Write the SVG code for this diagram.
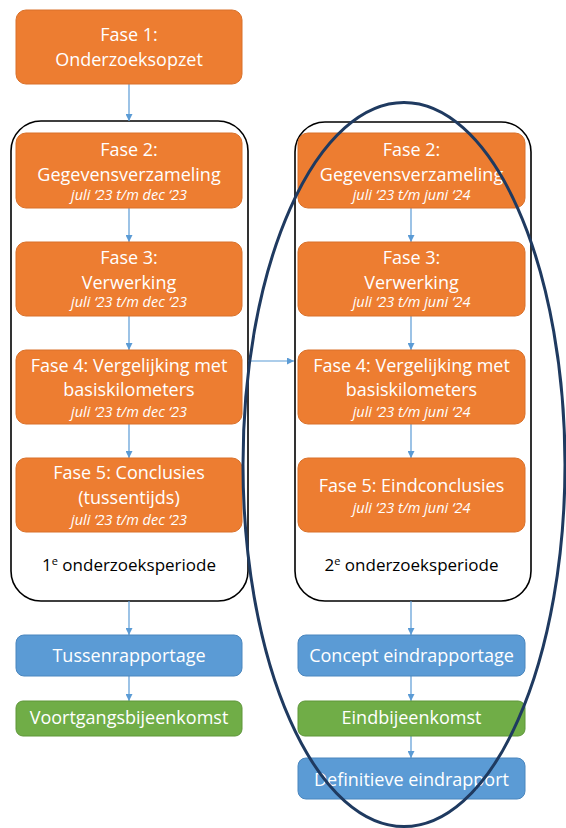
<svg xmlns="http://www.w3.org/2000/svg" width="566" height="828" viewBox="0 0 566 828">
<defs>
<marker id="ah" viewBox="0 0 10 10" refX="10" refY="5" markerWidth="7" markerHeight="7" orient="auto" markerUnits="userSpaceOnUse">
<path d="M0,0 L10,5 L0,10 z" fill="#5B9BD5"/>
</marker>
<style>
.or{fill:#ED7D31;stroke:#D9712A;stroke-width:1}
.bl{fill:#5B9BD5;stroke:#4A86BE;stroke-width:1}
.gr{fill:#70AD47;stroke:#5E9639;stroke-width:1}
.cont{fill:none;stroke:#000;stroke-width:1.6}
.t{font-family:"Open Sans","Liberation Sans",sans-serif;font-size:18px;fill:#fff;text-anchor:middle}
.i{font-family:"Open Sans","Liberation Sans",sans-serif;font-size:14.5px;font-style:italic;fill:#fff;text-anchor:middle}
.k{font-family:"Open Sans","Liberation Sans",sans-serif;font-size:17px;fill:#000;text-anchor:middle}
.c{stroke:#5B9BD5;stroke-width:1.2;fill:none;marker-end:url(#ah)}
</style>
</defs>
<g id="containers">
<rect id="period1" class="cont" x="11" y="121" width="237" height="480" rx="30"/>
<rect id="period2" class="cont" x="295" y="122" width="236" height="479" rx="30"/>
</g>
<g id="connectors">
<line class="c" x1="129" y1="84" x2="129" y2="121"/>
<line class="c" x1="129" y1="208" x2="129" y2="242"/>
<line class="c" x1="129" y1="316" x2="129" y2="350"/>
<line class="c" x1="129" y1="424" x2="129" y2="458"/>
<line class="c" x1="129" y1="601" x2="129" y2="635"/>
<line class="c" x1="129" y1="676" x2="129" y2="701"/>
<line class="c" x1="411" y1="208" x2="411" y2="242"/>
<line class="c" x1="411" y1="316" x2="411" y2="350"/>
<line class="c" x1="411" y1="424" x2="411" y2="458"/>
<line class="c" x1="411" y1="601" x2="411" y2="635"/>
<line class="c" x1="411" y1="676" x2="411" y2="701"/>
<line class="c" x1="411" y1="736" x2="411" y2="758"/>
<line class="c" x1="248" y1="361" x2="294" y2="361"/>
</g>
<g id="fase1"><rect class="or" x="16" y="10" width="226" height="74" rx="10"/>
<text class="t" x="129" y="41">Fase 1:</text><text class="t" x="129" y="66">Onderzoeksopzet</text></g>
<g id="fase2a"><rect class="or" x="16" y="133" width="226" height="75" rx="10"/>
<text class="t" x="129" y="156">Fase 2:</text><text class="t" x="129" y="181">Gegevensverzameling</text><text class="i" x="129" y="200">juli ‘23 t/m dec ‘23</text></g>
<g id="fase3a"><rect class="or" x="16" y="242" width="226" height="74" rx="10"/>
<text class="t" x="129" y="264">Fase 3:</text><text class="t" x="129" y="289">Verwerking</text><text class="i" x="129" y="307">juli ‘23 t/m dec ‘23</text></g>
<g id="fase4a"><rect class="or" x="16" y="350" width="226" height="74" rx="10"/>
<text class="t" x="129" y="372">Fase 4: Vergelijking met</text><text class="t" x="129" y="396">basiskilometers</text><text class="i" x="129" y="417">juli ‘23 t/m dec ‘23</text></g>
<g id="fase5a"><rect class="or" x="16" y="458" width="226" height="74" rx="10"/>
<text class="t" x="129" y="479">Fase 5: Conclusies</text><text class="t" x="129" y="504">(tussentijds)</text><text class="i" x="129" y="525">juli ‘23 t/m dec ‘23</text></g>
<g id="label1"><text class="k" x="129" y="571">1<tspan font-size="11" dy="-6">e</tspan><tspan dy="6"> onderzoeksperiode</tspan></text></g>
<g id="fase2b"><rect class="or" x="298" y="133" width="227" height="75" rx="10"/>
<text class="t" x="411.5" y="156">Fase 2:</text><text class="t" x="411.5" y="181">Gegevensverzameling</text><text class="i" x="411.5" y="200">juli ‘23 t/m juni ‘24</text></g>
<g id="fase3b"><rect class="or" x="298" y="242" width="227" height="74" rx="10"/>
<text class="t" x="411.5" y="264">Fase 3:</text><text class="t" x="411.5" y="289">Verwerking</text><text class="i" x="411.5" y="307">juli ‘23 t/m juni ‘24</text></g>
<g id="fase4b"><rect class="or" x="298" y="350" width="227" height="74" rx="10"/>
<text class="t" x="411.5" y="372">Fase 4: Vergelijking met</text><text class="t" x="411.5" y="396">basiskilometers</text><text class="i" x="411.5" y="417">juli ‘23 t/m juni ‘24</text></g>
<g id="fase5b"><rect class="or" x="298" y="458" width="227" height="74" rx="10"/>
<text class="t" x="411.5" y="492">Fase 5: Eindconclusies</text><text class="i" x="411.5" y="513">juli ‘23 t/m juni ‘24</text></g>
<g id="label2"><text class="k" x="411.5" y="571">2<tspan font-size="11" dy="-6">e</tspan><tspan dy="6"> onderzoeksperiode</tspan></text></g>
<g id="tussen"><rect class="bl" x="16" y="635" width="226" height="41" rx="8"/><text class="t" x="129" y="662">Tussenrapportage</text></g>
<g id="voortgang"><rect class="gr" x="16" y="701" width="226" height="35" rx="7"/><text class="t" x="129" y="724">Voortgangsbijeenkomst</text></g>
<g id="concept"><rect class="bl" x="298" y="635" width="227" height="41" rx="8"/><text class="t" x="411.5" y="662">Concept eindrapportage</text></g>
<g id="eindbij"><rect class="gr" x="298" y="701" width="227" height="35" rx="7"/><text class="t" x="411.5" y="724">Eindbijeenkomst</text></g>
<g id="definitief"><rect class="bl" x="298" y="758" width="227" height="41" rx="8"/><text class="t" x="411.5" y="786">Definitieve eindrapport</text></g>
<g id="highlight"><ellipse cx="404" cy="464.5" rx="161" ry="362" fill="none" stroke="#1F3A60" stroke-width="3"/></g>
</svg>
